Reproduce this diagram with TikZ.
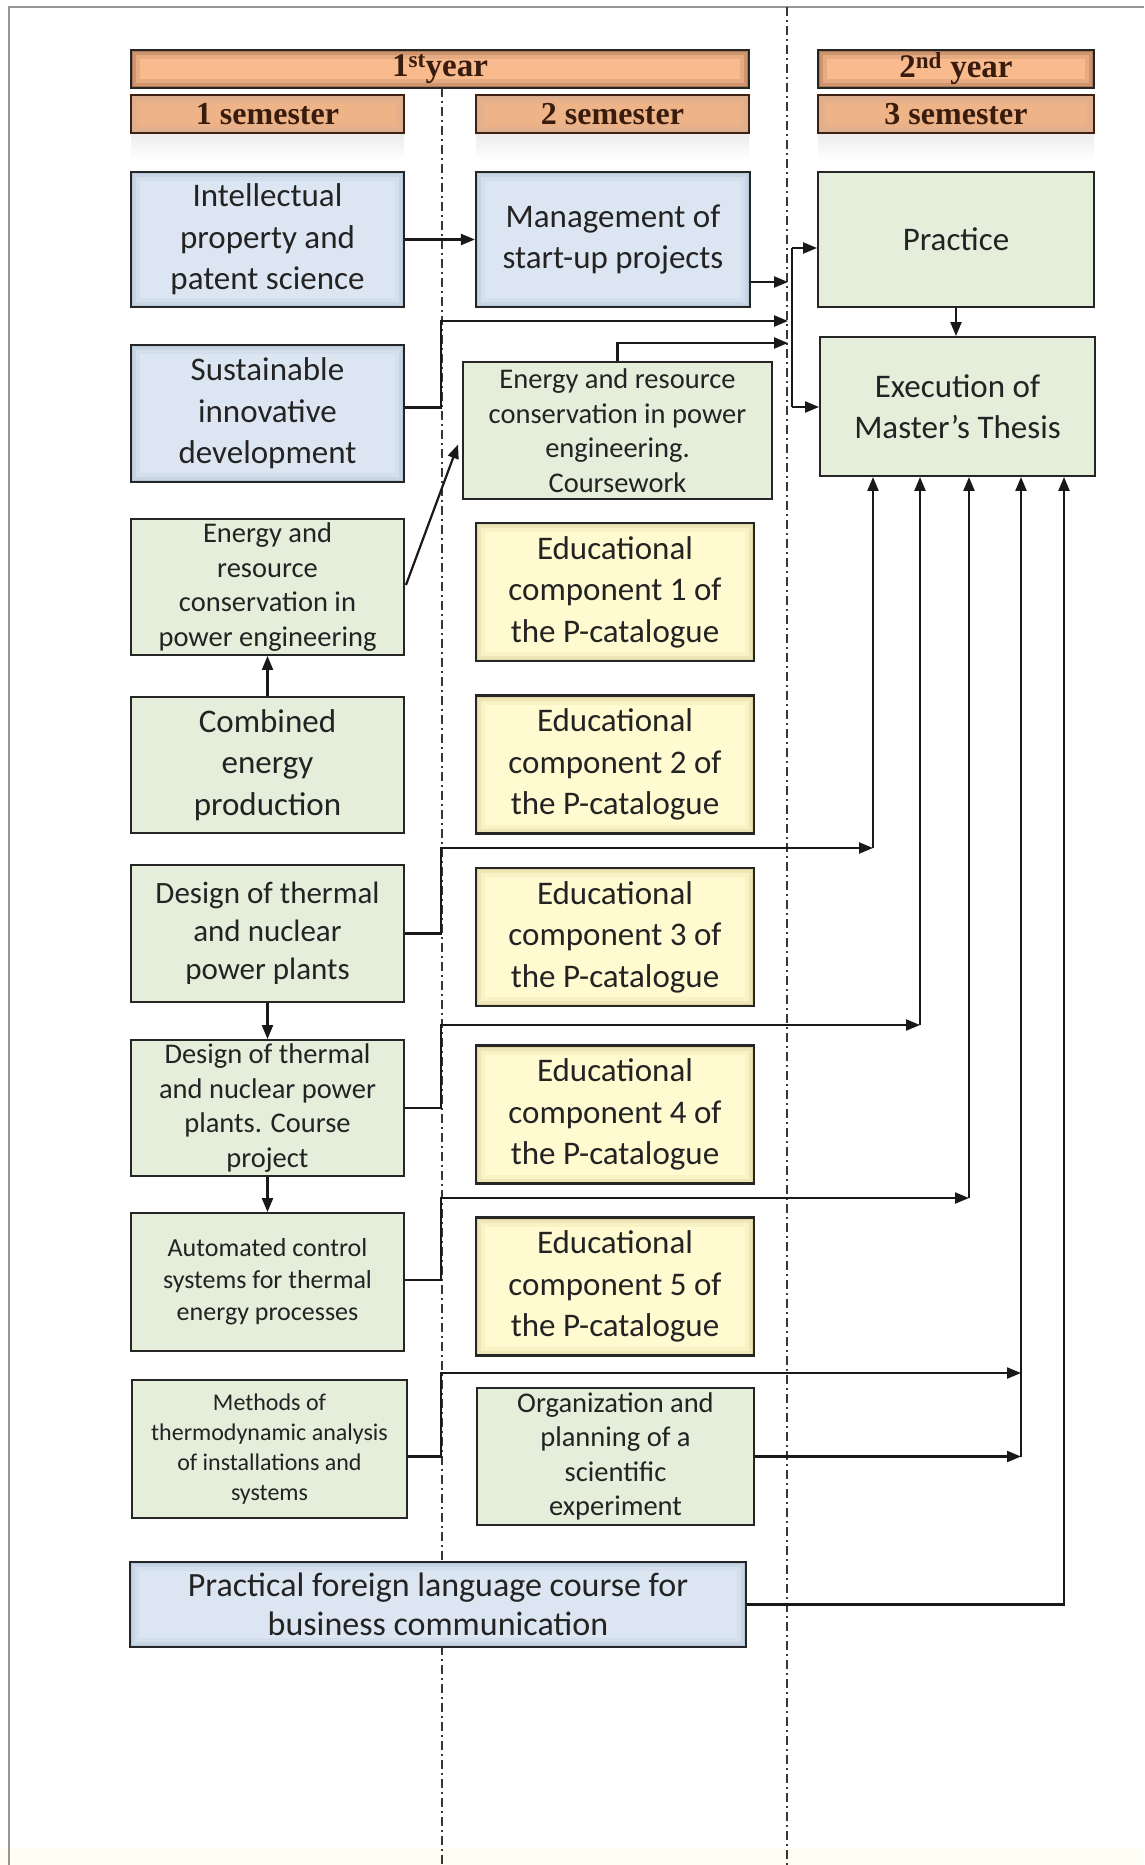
\documentclass[tikz,border=0pt]{standalone}
\usepackage{fontspec}
\setmainfont{Carlito}
\newfontfamily\hdrfont{Liberation Serif}
\usetikzlibrary{arrows.meta,calc}
\definecolor{blueF}{RGB}{220,230,242}
\definecolor{blueE}{RGB}{140,162,192}
\definecolor{greenF}{RGB}{228,238,218}
\definecolor{yelF}{RGB}{255,250,208}
\definecolor{yelE}{RGB}{190,172,105}
\definecolor{orF}{RGB}{249,186,142}
\definecolor{orE}{RGB}{80,40,20}
\definecolor{txt}{RGB}{35,35,35}
\definecolor{frameC}{RGB}{150,150,150}
\definecolor{dashC}{RGB}{55,55,55}
\tikzset{
  glow/.style={path picture={
    \draw[#1,line width=18pt,opacity=0.10] (path picture bounding box.south west) rectangle (path picture bounding box.north east);
    \draw[#1,line width=10pt,opacity=0.16] (path picture bounding box.south west) rectangle (path picture bounding box.north east);
    \draw[#1,line width=4pt,opacity=0.28] (path picture bounding box.south west) rectangle (path picture bounding box.north east);}},
  box/.style={draw=black!85, line width=2.2pt, inner sep=0pt, align=center, text=txt},
  bluebox/.style={box, fill=blueF, glow=blueE},
  greenbox/.style={box, fill=greenF, line width=1.9pt},
  yelbox/.style={box, fill=yelF, glow=yelE},
  yearbar/.style={draw=black!85, line width=2.2pt, fill=orF, glow=orE, inner sep=0pt,
    text=orE!70!black, font=\hdrfont\bfseries\fontsize{33}{36}\selectfont},
  sembox/.style={draw=orE!80!black, line width=2pt, fill=orF!96!black, glow=orE!40, inner sep=0pt,
    text=orE!70!black, font=\hdrfont\bfseries\fontsize{32}{36}\selectfont},
  fbig/.style={font=\fontsize{33}{41.5}\selectfont},
  fmid/.style={font=\fontsize{31}{38}\selectfont},
  fsm/.style={font=\fontsize{28.5}{34.5}\selectfont},
  fxs/.style={font=\fontsize{26}{32}\selectfont},
  fxxs/.style={font=\fontsize{24}{30}\selectfont},
  dashdot/.style={dashC, line width=1.3pt, dash pattern=on 9pt off 4pt on 2pt off 4pt},
  conn/.style={line width=2.2pt, black!90},
  arr/.style={conn, -{Triangle[length=14pt,width=11pt]}},
  refl/.style={top color=black!7, bottom color=white, draw=none}
}
\begin{document}
\begin{tikzpicture}[x=1pt,y=-1pt]
\useasboundingbox (0,0) rectangle (1144,1865);
\fill[white] (0,0) rectangle (1144,1865);
\fill[yellow!4] (0,1848) rectangle (1144,1865);
% frame
\draw[frameC, line width=1.5pt] (9,1865) -- (9,7) -- (1144,7);
% semester separators
\draw[dashdot] (442,88) -- (442,1865);
\draw[dashdot] (787,7) -- (787,1865);

% reflections under semester boxes
\shade[refl] (131,135) rectangle (404,160);
\shade[refl] (476,135) rectangle (749,160);
\shade[refl] (818,135) rectangle (1094,160);

% headers
\node[yearbar, minimum width=618pt, minimum height=38pt] (y1) at (440,69) {1\textsuperscript{st}year};
\node[yearbar, minimum width=276pt, minimum height=38pt] (y2) at (956,69) {2\textsuperscript{nd} year};
\node[sembox, minimum width=273pt, minimum height=38pt] (s1) at (267.5,114) {1 semester};
\node[sembox, minimum width=273pt, minimum height=38pt] (s2) at (612.5,114) {2 semester};
\node[sembox, minimum width=276pt, minimum height=38pt] (s3) at (956,114) {3 semester};

% left column
\node[bluebox, fbig, minimum width=273pt, minimum height=135pt] (ip) at (267.5,239.5) {Intellectual\\property and\\patent science};
\node[bluebox, fbig, minimum width=273pt, minimum height=137pt] (sid) at (267.5,413.5) {Sustainable\\innovative\\development};
\node[greenbox, fsm, minimum width=273pt, minimum height=136pt] (erc) at (267.5,587) {Energy and\\resource\\conservation in\\power engineering};
\node[greenbox, fbig, minimum width=273pt, minimum height=136pt] (cep) at (267.5,765) {Combined\\energy\\production};
\node[greenbox, fmid, minimum width=273pt, minimum height=137pt] (dtn) at (267.5,933.5) {Design of thermal\\and nuclear\\power plants};
\node[greenbox, fsm, minimum width=273pt, minimum height=136pt] (dcp) at (267.5,1108) {Design of thermal\\and nuclear power\\plants. Course\\project};
\node[greenbox, fxs, minimum width=273pt, minimum height=138pt] (acs) at (267.5,1282) {Automated control\\systems for thermal\\energy processes};
\node[greenbox, fxxs, minimum width=275pt, minimum height=138pt] (mta) at (269.5,1449) {Methods of\\thermodynamic analysis\\of installations and\\systems};
\node[bluebox, font=\fontsize{34}{39}\selectfont, minimum width=616pt, minimum height=85pt] (pfl) at (438,1604.5) {Practical foreign language course for\\business communication};

% middle column
\node[bluebox, fbig, minimum width=274pt, minimum height=135pt] (msp) at (613,239.5) {Management of\\start-up projects};
\node[greenbox, fsm, minimum width=309pt, minimum height=137pt] (erck) at (617.5,430.5) {Energy and resource\\conservation in power\\engineering.\\Coursework};
\node[yelbox, fbig, minimum width=278pt, minimum height=138pt] (ec1) at (615,592) {Educational\\component 1 of\\the P-catalogue};
\node[yelbox, fbig, minimum width=278pt, minimum height=138pt] (ec2) at (615,764.5) {Educational\\component 2 of\\the P-catalogue};
\node[yelbox, fbig, minimum width=278pt, minimum height=138pt] (ec3) at (615,937) {Educational\\component 3 of\\the P-catalogue};
\node[yelbox, fbig, minimum width=278pt, minimum height=138pt] (ec4) at (615,1114.5) {Educational\\component 4 of\\the P-catalogue};
\node[yelbox, fbig, minimum width=278pt, minimum height=138pt] (ec5) at (615,1286.5) {Educational\\component 5 of\\the P-catalogue};
\node[greenbox, fsm, minimum width=277pt, minimum height=137pt] (ops) at (615.5,1456.5) {Organization and\\planning of a\\scientific\\experiment};

% right column
\node[greenbox, fbig, minimum width=276pt, minimum height=135pt] (prac) at (956,239.5) {Practice};
\node[greenbox, fbig, minimum width=275pt, minimum height=139pt] (emt) at (957.5,406.5) {Execution of\\Master's Thesis};

% helper coordinates
\coordinate (L) at (441,0);
\coordinate (b1) at (788,282);
\coordinate (b2) at (788,321);
\coordinate (b3) at (788,343);
\coordinate (busT) at (792,248);
\coordinate (busB) at (792,407);
\coordinate (r1) at (873,848);
\coordinate (r2) at (920,1025);
\coordinate (r3) at (969,1198);
\coordinate (r4) at (1021,1373);
\coordinate (r6) at (1064,0);
\coordinate (sidE) at ($(sid.east)+(0,-6)$);
\coordinate (acsE) at ($(acs.east)+(0,-2)$);
\coordinate (mtaE) at (mta.east |- ops.east);
\coordinate (ercE) at ($(erc.east)+(1,-2)$);
\coordinate (erckW) at ($(erck.west)+(-4,14)$);

% connectors (top part)
\draw[arr] (ip.east) -- (msp.west);
\draw[arr] (msp.east |- b1) -- (b1);
\draw[arr] (sidE) -- (sidE -| L) -- (L |- b2) -- (b2);
\draw[arr] (erck.north) |- (b3);
\draw[conn] (busT) -- (busB);
\draw[arr] (busT) -- (prac.west |- busT);
\draw[arr] (busB) -- (emt.west |- busB);
\draw[arr] (prac.south) -- (prac.south |- emt.north);
\draw[arr] (ercE) -- (erckW);
\draw[arr] (cep.north) -- (erc.south);
\draw[arr] (dtn.south) -- (dcp.north);
\draw[arr] (dcp.south) -- (acs.north);

% connectors to the thesis
\draw[arr] (dtn.east) -- (dtn.east -| L) -- (L |- r1) -- (r1);
\draw[arr] (r1) -- (r1 |- emt.south);
\draw[arr] (dcp.east) -- (dcp.east -| L) -- (L |- r2) -- (r2);
\draw[arr] (r2) -- (r2 |- emt.south);
\draw[arr] (acsE) -- (acsE -| L) -- (L |- r3) -- (r3);
\draw[arr] (r3) -- (r3 |- emt.south);
\draw[arr] (mtaE) -- (mtaE -| L) -- (L |- r4) -- (r4);
\draw[arr] (ops.east) -- (r4 |- ops.east);
\draw[arr] (r4 |- ops.east) -- (r4 |- emt.south);
\draw[arr] (pfl.east) -| (r6 |- emt.south);
\end{tikzpicture}
\end{document}
